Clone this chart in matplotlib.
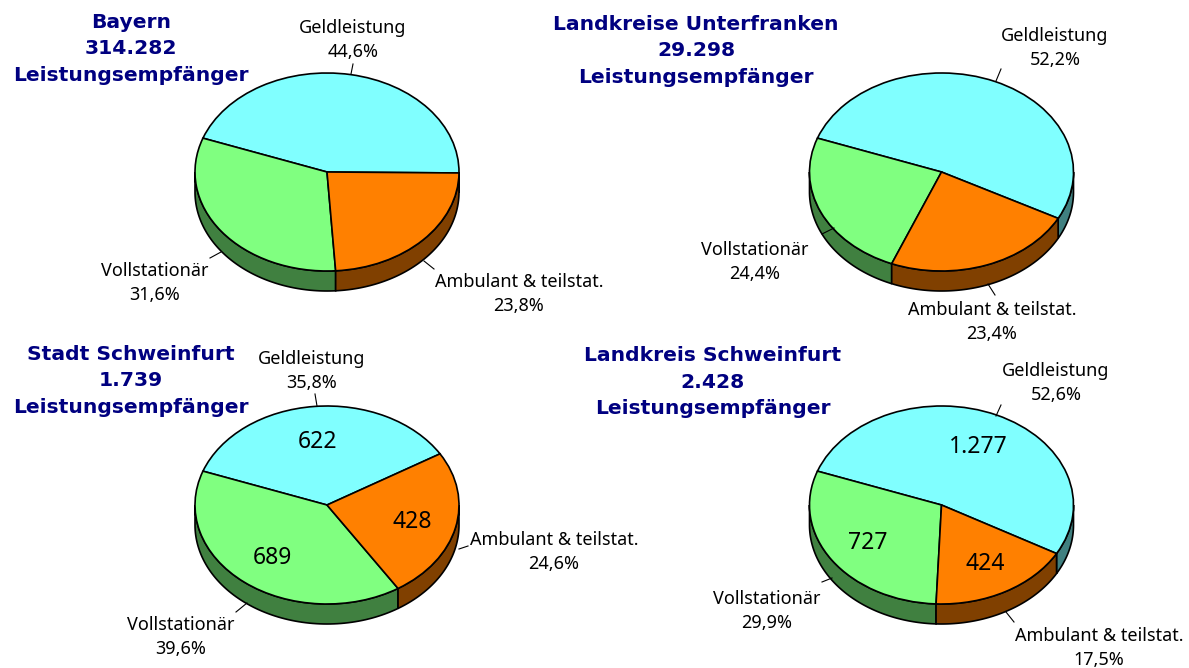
import numpy as np
import matplotlib
matplotlib.use("Agg")
import matplotlib.pyplot as plt
from matplotlib.patches import Polygon

W, H = 1189, 668
names = ["Geldleistung", "Vollstationär", "Ambulant & teilstat."]
bayern = [44.6, 31.6, 23.8]
unterfranken = [52.2, 24.4, 23.4]
stadt_sw = [35.8, 39.6, 24.6]
landkreis_sw = [52.6, 29.9, 17.5]
stadt_counts = ["622", "689", "428"]
landkreis_counts = ["1.277", "727", "424"]
top_colors = ["#80FFFF", "#80FF80", "#FF8000"]
side_colors = ["#408080", "#408040", "#804000"]
navy = "#000080"

RX, RY, DEPTH = 132, 99, 20
fig = plt.figure(figsize=(W/100, H/100), dpi=100)
bg = fig.add_axes([0, 0, 1, 1]); bg.set_xlim(0, W); bg.set_ylim(H, 0); bg.axis("off")
plt.rcParams["font.family"] = ["Noto Sans", "DejaVu Sans"]

def pie3d(cx, cy, vals, title, tx, label_xy, leaders, counts=None, count_xy=None):
    ax = fig.add_axes([(cx-RX*1.25)/W, 1-(cy+RY*1.25+DEPTH*1.0)/H, RX*2.5/W, (RY*2.5+DEPTH)/H])
    ax.patch.set_alpha(0)
    d = DEPTH/RY
    total = sum(vals)
    start = 160 - vals[0]/total*360
    a = start
    for i, v in enumerate(vals):
        b = a + v/total*360
        for k in (-1, 0, 1):
            s, e = max(a+360*k, 180), min(b+360*k, 360)
            if e > s:
                t = np.radians(np.linspace(s, e, 80))
                x, y = np.cos(t), np.sin(t)
                pts = np.r_[np.c_[x, y], np.c_[x[::-1], y[::-1]-d]]
                ax.add_patch(Polygon(pts, closed=True, fc=side_colors[i], ec="black", lw=1.2, zorder=1))
        a = b
    ax.pie(vals, colors=top_colors, startangle=start, counterclock=True, radius=1,
           wedgeprops=dict(edgecolor="black", linewidth=1.2, zorder=2))
    ax.set_aspect("auto")
    ax.set_xlim(-1.25, 1.25)
    ax.set_ylim(-1.25-d, 1.25)
    bg.text(tx[0], tx[1], title, color=navy, fontsize=14.6, fontweight="bold", ha="center", va="center",
            family=["DejaVu Sans"], linespacing=1.53)
    for i, name in enumerate(names):
        x, y = label_xy[i]
        bg.text(x, y, f"{name}\n{str(vals[i]).replace('.', ',')}%", fontsize=13, ha="center", va="center",
                linespacing=1.38, zorder=5)
        (x0, y0), (x1, y1) = leaders[i]
        bg.plot([x0, x1], [y0, y1], color="black", lw=0.8, zorder=5)
    if counts:
        for c, (x, y) in zip(counts, count_xy):
            bg.text(x, y, c, fontsize=16.5, ha="center", va="center", zorder=5)

bg.set_zorder(5)

pie3d(327, 172, bayern, "Bayern\n314.282\nLeistungsempfänger", (131, 49),
      [(353, 40), (155, 283), (519, 294)],
      [((353, 64), (351, 74)), ((210, 258), (221, 252)), ((424, 261), (434, 269))])
pie3d(941.5, 172, unterfranken, "Landkreise Unterfranken\n29.298\nLeistungsempfänger", (696, 51),
      [(1055, 48), (755, 262), (992, 322)],
      [((1001, 69), (996, 81)), ((822, 234), (834, 228)), ((988, 284), (995, 295))])
pie3d(327, 505, stadt_sw, "Stadt Schweinfurt\n1.739\nLeistungsempfänger", (131, 381),
      [(312, 371), (181, 637), (554, 552)],
      [((315, 394), (317, 406)), ((236, 612), (247, 603)), ((459, 549), (468, 546))],
      stadt_counts, [(318, 442), (272, 558), (412, 522)])
pie3d(941.5, 505, landkreis_sw, "Landkreis Schweinfurt\n2.428\nLeistungsempfänger", (713, 382),
      [(1056, 383), (767, 611), (1099, 648)],
      [((1001, 405), (996, 416)), ((822, 582), (832, 578)), ((1006, 612), (1014, 622))],
      landkreis_counts, [(978, 447), (868, 543), (985, 564)])

fig.savefig("out.png", dpi=100)
